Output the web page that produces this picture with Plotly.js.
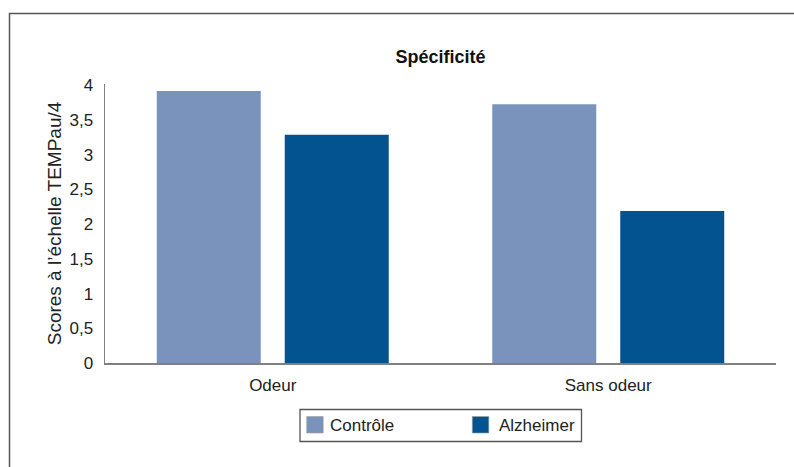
<!DOCTYPE html>
<html>
<head>
<meta charset="utf-8">
<script src="https://cdn.plot.ly/plotly-3.0.1.min.js"></script>
<style>html,body{margin:0;padding:0;background:#fff;}#chart{width:794px;height:467px;}</style>
</head>
<body>
<div id="chart"></div>
<script>
const categories = ["Odeur", "Sans odeur"];
const seriesNames = ["Contrôle", "Alzheimer"];
const seriesColors = ["#7a93bc", "#02538f"];
const controleValues = [3.92, 3.73];
const alzheimerValues = [3.29, 2.19];
const yTickValues = [0, 0.5, 1, 1.5, 2, 2.5, 3, 3.5, 4];

const W = 794, H = 467;
const ml = 105, mr = 18, mt = 84, mb = 104;
const pw = W - ml - mr, ph = H - mt - mb;
const px = x => (x - ml) / pw;
const py = y => (H - mb - y) / ph;

const font = "Liberation Sans, Arial, Helvetica, sans-serif";

const traces = [
  {type: "bar", name: seriesNames[0], x: categories, y: controleValues,
   marker: {color: seriesColors[0]}, hoverinfo: "none", showlegend: false},
  {type: "bar", name: seriesNames[1], x: categories, y: alzheimerValues,
   marker: {color: seriesColors[1]}, hoverinfo: "none", showlegend: false}
];

// legend drawn as box + swatches + labels
const legendItems = [
  {sx: 306.7, tx: 328},
  {sx: 472.3, tx: 497}
];
const shapes = [
  {type: "path", xref: "paper", yref: "paper",
   path: `M ${px(9.5)} ${py(480)} L ${px(9.5)} ${py(13.5)} L ${px(810)} ${py(13.5)}`,
   line: {color: "#555", width: 1.5}},
  {type: "rect", xref: "paper", yref: "paper", x0: px(300), x1: px(581.5), y0: py(441.5), y1: py(409.5),
   line: {color: "#555", width: 1.3}, fillcolor: "#fff"}
];
const annotations = [];
legendItems.forEach((it, i) => {
  shapes.push({type: "rect", xref: "paper", yref: "paper", x0: px(it.sx), x1: px(it.sx + 16.5),
               y0: py(433), y1: py(416.5), line: {color: "#a0a0a0", width: 0.6}, fillcolor: seriesColors[i]});
  annotations.push({xref: "paper", yref: "paper", x: px(it.tx), y: py(425.5), xanchor: "left", yanchor: "middle",
                    text: seriesNames[i], showarrow: false, font: {family: font, size: 17, color: "#222"}});
});

const layout = {
  width: W, height: H,
  margin: {l: ml, r: mr, t: mt, b: mb, pad: 0},
  paper_bgcolor: "#ffffff", plot_bgcolor: "#ffffff",
  font: {family: font, size: 17, color: "#222"},
  separators: ", ",
  barmode: "group", bargap: 0.237, bargroupgap: 0.1875,
  title: {text: "<b>Spécificité</b>", font: {family: font, size: 18, color: "#111"},
          x: 0.5, xref: "paper", xanchor: "center", y: (H - 57) / H, yanchor: "middle"},
  xaxis: {showline: true, linecolor: "#808080", linewidth: 1.5, showgrid: false, zeroline: false,
          ticks: "", tickfont: {family: font, size: 17, color: "#222"}, ticklabelstandoff: 6},
  yaxis: {range: [0, 4.02], showline: true, linecolor: "#808080", linewidth: 1.5, showgrid: false,
          zeroline: false, ticks: "", tickvals: yTickValues, tickformat: ".1~f",
          tickfont: {family: font, size: 17, color: "#222"}, ticklabelstandoff: 7,
          title: {text: "Scores à l’échelle TEMPau/4", font: {family: font, size: 19, color: "#222"}, standoff: 3}},
  showlegend: false,
  shapes: shapes,
  annotations: annotations
};

Plotly.newPlot("chart", traces, layout, {displayModeBar: false, staticPlot: true});
</script>
</body>
</html>
